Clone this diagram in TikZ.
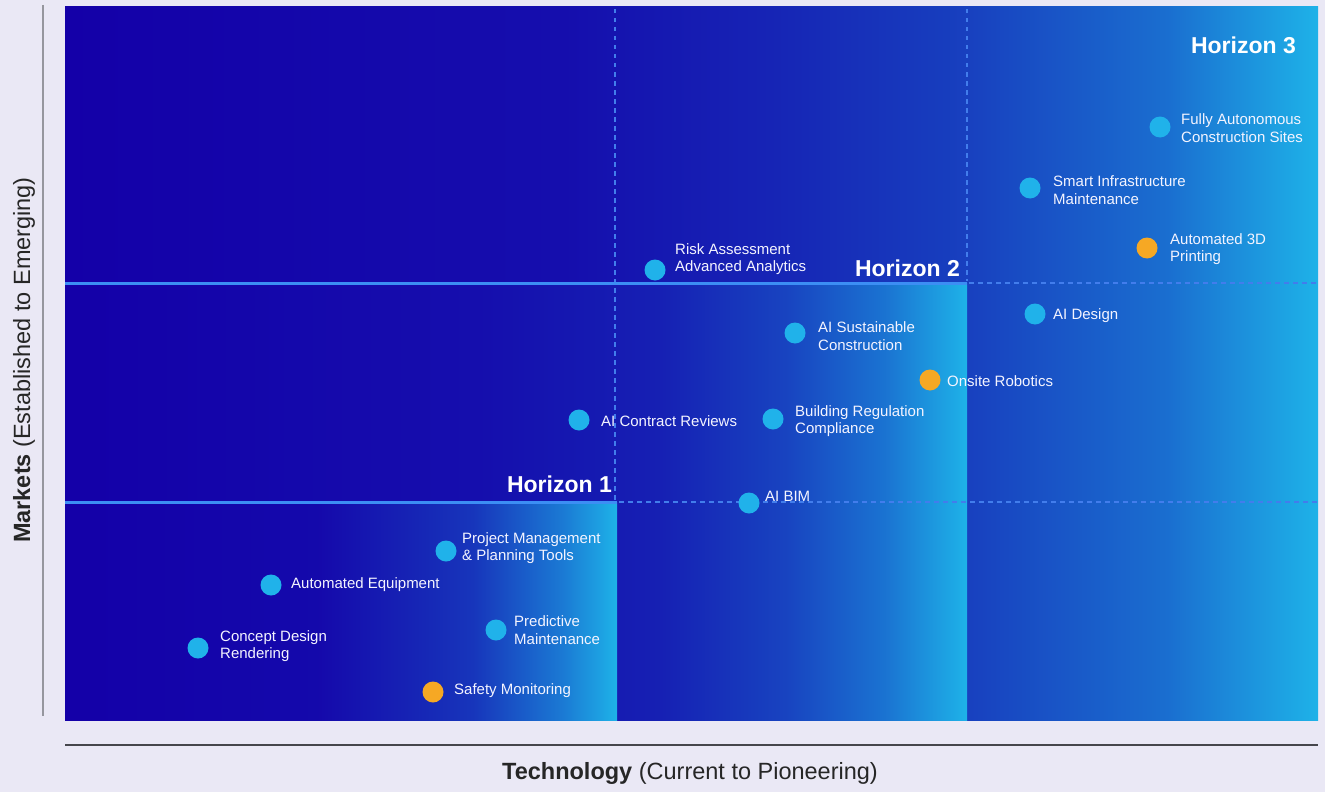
\documentclass[tikz,border=0pt]{standalone}
\usepackage{fontspec}
\setmainfont{Liberation Sans}

% palette
\definecolor{pagebg}{RGB}{234,232,245}
\definecolor{dk}{RGB}{20,0,168}
\definecolor{cy}{RGB}{30,178,232}
\definecolor{dotblue}{RGB}{32,178,234}
\definecolor{dotorange}{RGB}{246,168,36}
\definecolor{rule}{RGB}{60,142,244}
\definecolor{dashc}{RGB}{66,125,236}
\definecolor{axisv}{RGB}{150,150,158}
\definecolor{axish}{RGB}{70,70,76}
\definecolor{labelc}{RGB}{244,244,255}

% horizontal gradients of the three horizon bands
\pgfdeclarehorizontalshading{hthree}{100bp}{color(0bp)=(dk); color(25bp)=(dk);
  color(45bp)=(dk!92!cy); color(53bp)=(dk!80!cy); color(61bp)=(dk!64!cy);
  color(69bp)=(dk!38!cy); color(75bp)=(cy); color(100bp)=(cy)}
\pgfdeclarehorizontalshading{htwo}{100bp}{color(0bp)=(dk); color(25bp)=(dk);
  color(48bp)=(dk!92!cy); color(58bp)=(dk!82!cy); color(65bp)=(dk!62!cy);
  color(70.5bp)=(dk!35!cy); color(75bp)=(cy); color(100bp)=(cy)}
\pgfdeclarehorizontalshading{hone}{100bp}{color(0bp)=(dk); color(25bp)=(dk);
  color(48bp)=(dk!95!cy); color(62bp)=(dk!70!cy); color(70bp)=(dk!32!cy);
  color(75bp)=(cy); color(100bp)=(cy)}

\begin{document}
\begin{tikzpicture}[x=1pt,y=-1pt,
  dotb/.style={circle,fill=dotblue,minimum size=21pt,inner sep=0pt},
  doto/.style={circle,fill=dotorange,minimum size=21pt,inner sep=0pt},
  itemlabel/.style={anchor=west,inner sep=0pt,text=labelc,align=left,
    font=\fontsize{15}{17.5}\selectfont},
  horizon/.style={anchor=east,inner sep=0pt,text=white,
    font=\fontsize{23}{26}\selectfont\bfseries},
  solidrule/.style={draw=rule,line width=3pt},
  dashrule/.style={draw=dashc,line width=1.6pt,dash pattern=on 4.5pt off 4.5pt},
  axistitle/.style={inner sep=0pt,text=black!85,font=\fontsize{23.5}{27}\selectfont}]

% page
\fill[pagebg] (0,0) rectangle (1325,792);
\useasboundingbox (0,0) rectangle (1325,792);

% horizon bands
\path[shading=hthree] (65,7) rectangle (1318,720);
\path[shading=htwo] (65,283) rectangle (967,720);
\path[shading=hone] (65,502) rectangle (617,720);

% dashed guides
\draw[dashrule] (615,9) -- (615,500);
\draw[dashrule] (967,9) -- (967,281);
\draw[dashrule] (969,283) -- (1318,283);
\draw[dashrule] (619,502) -- (1318,502);

% solid horizon boundaries
\draw[solidrule] (65,283) -- (967,283);
\draw[solidrule] (65,502) -- (617,502);

% axes
\draw[axisv,line width=2pt] (43,5) -- (43,716);
\draw[axish,line width=1.6pt] (65,745) -- (1318,745);
\node[axistitle] (xtitle) at (690,773) {\textbf{Technology} (Current to Pioneering)};
\node[axistitle,rotate=90] (ytitle) at (24,360) {\textbf{Markets} (Established to Emerging)};

% horizon titles
\node[horizon] (h3) at (1296,45) {Horizon 3};
\node[horizon] (h2) at (960,268) {Horizon 2};
\node[horizon] (h1) at (612,484) {Horizon 1};

% items
\node[dotb] (fa) at (1160,127) {};
\node[itemlabel] (fat) at (1181,128) {Fully Autonomous\\Construction Sites};
\node[dotb] (si) at (1030,188) {};
\node[itemlabel] (sit) at (1053,190) {Smart Infrastructure\\Maintenance};
\node[doto] (ap) at (1147,248) {};
\node[itemlabel] (apt) at (1170,249) {Automated 3D\\Printing};
\node[dotb] (ra) at (655,270) {};
\node[itemlabel] (rat) at (675,259) {Risk Assessment\\Advanced Analytics};
\node[dotb] (ad) at (1035,314) {};
\node[itemlabel] (adt) at (1053,316) {AI Design};
\node[dotb] (as) at (795,333) {};
\node[itemlabel] (ast) at (818,336) {AI Sustainable\\Construction};
\node[doto] (orb) at (930,380) {};
\node[itemlabel] (orbt) at (947,381) {Onsite Robotics};
\node[dotb] (ac) at (579,420) {};
\node[itemlabel] (act) at (601,421) {AI Contract Reviews};
\node[dotb] (br) at (773,419) {};
\node[itemlabel] (brt) at (795,421) {Building Regulation\\Compliance};
\node[dotb] (ab) at (749,503) {};
\node[itemlabel] (abt) at (765,496) {AI BIM};
\node[dotb] (pm) at (446,551) {};
\node[itemlabel] (pmt) at (462,548) {Project Management\\\& Planning Tools};
\node[dotb] (ae) at (271,585) {};
\node[itemlabel] (aet) at (291,585) {Automated Equipment};
\node[dotb] (pr) at (496,630) {};
\node[itemlabel] (prt) at (514,630) {Predictive\\Maintenance};
\node[dotb] (cd) at (198,648) {};
\node[itemlabel] (cdt) at (220,646) {Concept Design\\Rendering};
\node[doto] (sm) at (433,692) {};
\node[itemlabel] (smt) at (454,691) {Safety Monitoring};

\end{tikzpicture}
\end{document}
